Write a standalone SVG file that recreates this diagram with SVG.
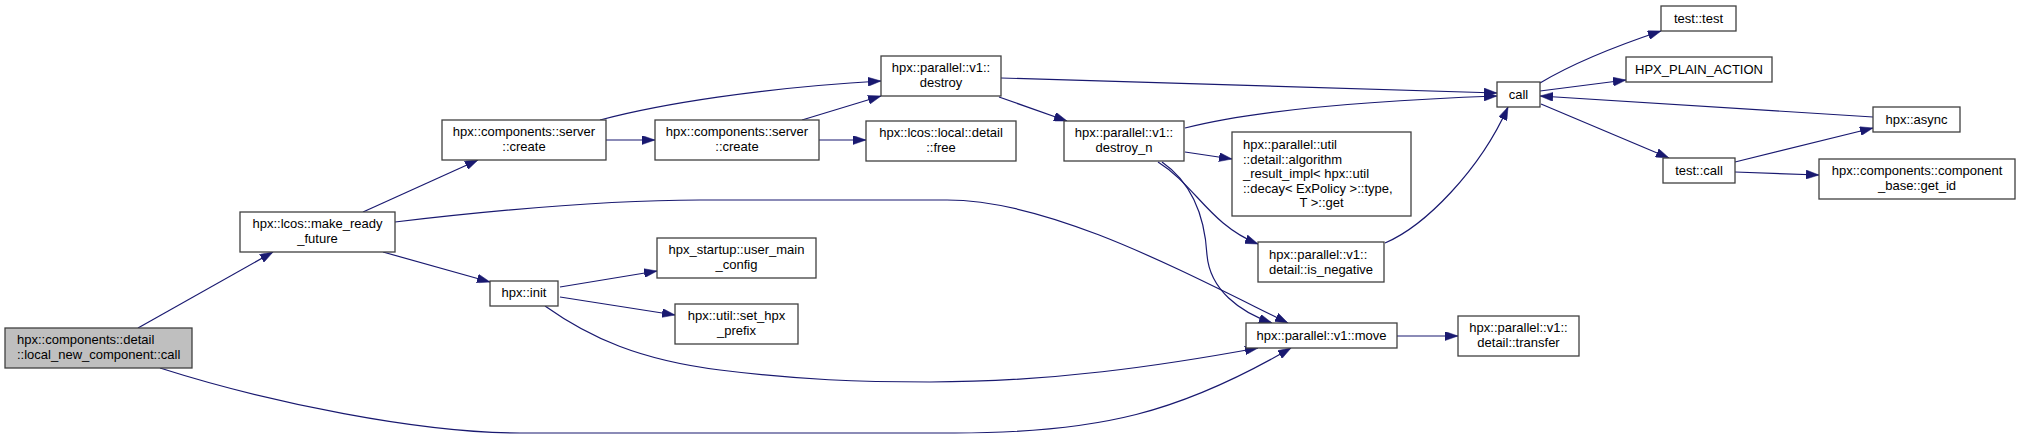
<svg xmlns="http://www.w3.org/2000/svg" width="2020" height="439" viewBox="0 0 2020 439">
<style>
.n rect{fill:#ffffff;stroke:#404040;stroke-width:1.3}
.n.root rect{fill:#bfbfbf}
.n text{font-family:"Liberation Sans",Arial,sans-serif;font-size:13px;fill:#000000}
.c{text-anchor:middle}
.e path{fill:none;stroke:#191970;stroke-width:1.2;marker-end:url(#ah)}
</style>
<defs>
<marker id="ah" viewBox="0 0 13 9" refX="13" refY="4.5" markerWidth="13" markerHeight="9" markerUnits="userSpaceOnUse" orient="auto">
<path d="M0,0 L13,4.5 L0,9 z" fill="#191970" stroke="#191970" stroke-width="0.5"/>
</marker>
</defs>
<rect x="0" y="0" width="2020" height="439" fill="#ffffff"/>
<g id="edges" class="e">
<path d="M138,328 L273,252"/>
<path d="M160,368 C270,403 420,433 520,433 L955,433 C1100,433 1181,412 1291,348"/>
<path d="M363,212 L478,160"/>
<path d="M395,222 C480,212 600,200 700,200 L947,200 C1050,200 1180,270 1288,323"/>
<path d="M383,252 L490,282"/>
<path d="M606,140 L655,140"/>
<path d="M600,120 C660,104 760,88 881,81"/>
<path d="M802,120 L881,96"/>
<path d="M819,140 L866,140"/>
<path d="M1001,78 L1497,93"/>
<path d="M999,97 L1067,121"/>
<path d="M1185,128 C1240,114 1330,102 1497,96"/>
<path d="M1185,152 L1232,159"/>
<path d="M1158,162 C1195,185 1210,225 1258,244"/>
<path d="M1162,162 C1195,185 1205,220 1207,255 C1210,290 1240,312 1272,323"/>
<path d="M1385,243 C1425,226 1480,170 1508,107"/>
<path d="M560,287 L657,271"/>
<path d="M560,297 L675,315"/>
<path d="M545,306 C590,338 640,360 720,370 C800,380 860,382 930,382 C1050,382 1160,366 1258,348"/>
<path d="M1397,336 L1458,336"/>
<path d="M1540,83 C1570,65 1610,48 1661,31"/>
<path d="M1540,91 L1626,80"/>
<path d="M1541,104 L1669,158"/>
<path d="M1873,117 L1540,96"/>
<path d="M1735,162 L1873,128"/>
<path d="M1735,172 L1819,175"/>
</g>
<g id="n0" class="n root"><rect x="5" y="328" width="187" height="40"/><text x="17" y="344">hpx::components::detail</text><text x="17" y="359">::local_new_component::call</text></g>
<g id="n1" class="n"><rect x="240" y="212" width="155" height="40"/><text class="c" x="317.5" y="228">hpx::lcos::make_ready</text><text class="c" x="317.5" y="243">_future</text></g>
<g id="n2" class="n"><rect x="442" y="120" width="164" height="40"/><text class="c" x="524" y="136">hpx::components::server</text><text class="c" x="524" y="151">::create</text></g>
<g id="n3" class="n"><rect x="655" y="120" width="164" height="40"/><text class="c" x="737" y="136">hpx::components::server</text><text class="c" x="737" y="151">::create</text></g>
<g id="n4" class="n"><rect x="490" y="281" width="68" height="25"/><text class="c" x="524" y="297">hpx::init</text></g>
<g id="n5" class="n"><rect x="657" y="238" width="159" height="40"/><text class="c" x="736.5" y="254">hpx_startup::user_main</text><text class="c" x="736.5" y="269">_config</text></g>
<g id="n6" class="n"><rect x="675" y="304" width="123" height="40"/><text class="c" x="736.5" y="320">hpx::util::set_hpx</text><text class="c" x="736.5" y="335">_prefix</text></g>
<g id="n7" class="n"><rect x="881" y="56" width="120" height="40"/><text class="c" x="941" y="72">hpx::parallel::v1::</text><text class="c" x="941" y="87">destroy</text></g>
<g id="n8" class="n"><rect x="866" y="121" width="150" height="40"/><text class="c" x="941" y="137">hpx::lcos::local::detail</text><text class="c" x="941" y="152">::free</text></g>
<g id="n9" class="n"><rect x="1064" y="121" width="120" height="40"/><text class="c" x="1124" y="137">hpx::parallel::v1::</text><text class="c" x="1124" y="152">destroy_n</text></g>
<g id="n10" class="n"><rect x="1232" y="132" width="179" height="84"/><text x="1243" y="149">hpx::parallel::util</text><text x="1243" y="163.5">::detail::algorithm</text><text x="1243" y="178">_result_impl&lt; hpx::util</text><text x="1243" y="192.5">::decay&lt; ExPolicy &gt;::type,</text><text class="c" x="1321.5" y="207">T &gt;::get</text></g>
<g id="n11" class="n"><rect x="1258" y="242" width="126" height="40"/><text x="1269" y="259">hpx::parallel::v1::</text><text x="1269" y="274">detail::is_negative</text></g>
<g id="n12" class="n"><rect x="1246" y="323" width="151" height="25"/><text class="c" x="1321.5" y="339.5">hpx::parallel::v1::move</text></g>
<g id="n13" class="n"><rect x="1458" y="316" width="121" height="40"/><text class="c" x="1518.5" y="332">hpx::parallel::v1::</text><text class="c" x="1518.5" y="347">detail::transfer</text></g>
<g id="n14" class="n"><rect x="1497" y="82" width="43" height="25"/><text class="c" x="1518.5" y="98.5">call</text></g>
<g id="n15" class="n"><rect x="1661" y="6" width="75" height="25"/><text class="c" x="1698.5" y="22.5">test::test</text></g>
<g id="n16" class="n"><rect x="1626" y="57" width="146" height="25"/><text class="c" x="1699" y="73.5">HPX_PLAIN_ACTION</text></g>
<g id="n17" class="n"><rect x="1873" y="107" width="87" height="25"/><text class="c" x="1916.5" y="123.5">hpx::async</text></g>
<g id="n18" class="n"><rect x="1663" y="158" width="72" height="25"/><text class="c" x="1699" y="174.5">test::call</text></g>
<g id="n19" class="n"><rect x="1819" y="159" width="196" height="40"/><text class="c" x="1917" y="175">hpx::components::component</text><text class="c" x="1917" y="190">_base::get_id</text></g>
</svg>
